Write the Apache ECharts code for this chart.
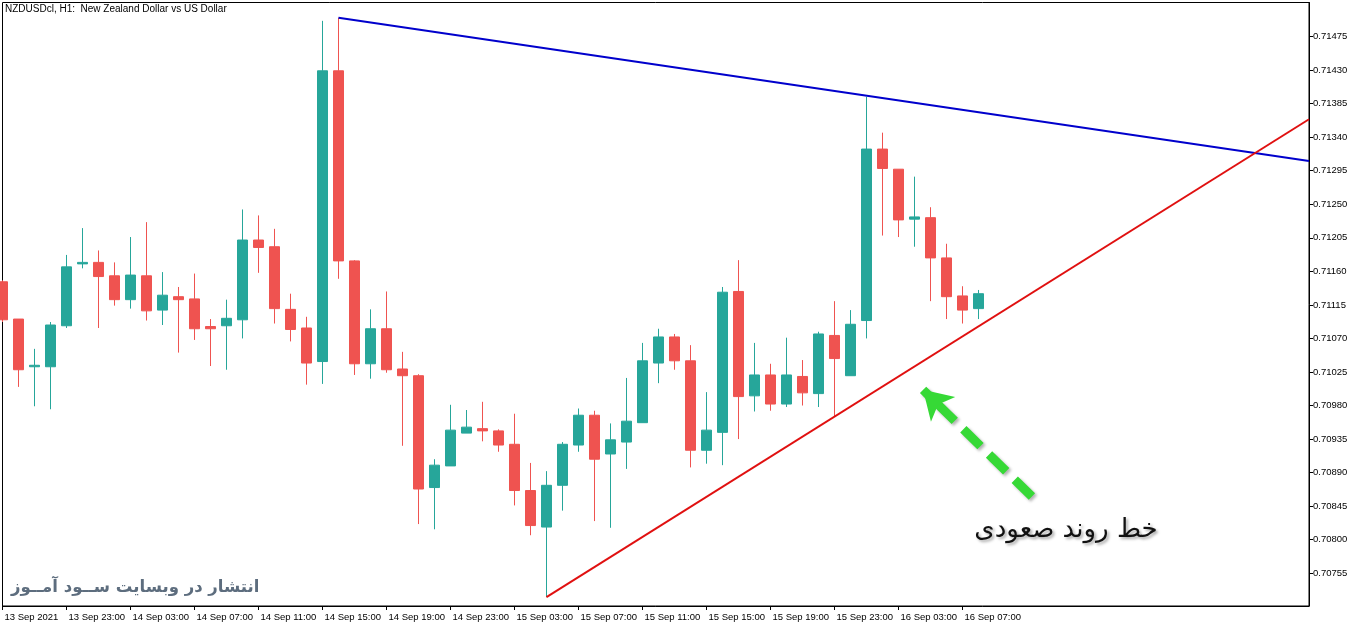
<!DOCTYPE html>
<html>
<head>
<meta charset="utf-8">
<script src="https://cdn.jsdelivr.net/npm/echarts@6.0.0/dist/echarts.min.js"></script>
<style>
  html, body { margin: 0; padding: 0; background: #fff; }
  #chart { width: 1362px; height: 628px; }
</style>
</head>
<body>
<div id="chart"></div>
<script>
// NZDUSD H1, one candle per hour starting 13 Sep 2021 19:00
const opens = [0.71146, 0.71096, 0.71032, 0.71032, 0.71087, 0.71170, 0.71172, 0.71154, 0.71122, 0.71154,
    0.71108, 0.71126, 0.71123, 0.71086, 0.71087, 0.71095, 0.71202, 0.71193, 0.71109, 0.71084,
    0.71039, 0.71429, 0.71174, 0.71036, 0.71083, 0.71029, 0.71020, 0.70870, 0.70899, 0.70943,
    0.70949, 0.70946, 0.70928, 0.70866, 0.70817, 0.70873, 0.70927, 0.70967, 0.70915, 0.70931,
    0.70957, 0.71037, 0.71072, 0.71040, 0.70920, 0.70944, 0.71133, 0.70993, 0.71021, 0.70982,
    0.71019, 0.70996, 0.71074, 0.71020, 0.71094, 0.71324, 0.71297, 0.71230, 0.71232, 0.71178,
    0.71127, 0.71110];
const closes = [0.71095, 0.71028, 0.71034, 0.71088, 0.71166, 0.71172, 0.71153, 0.71122, 0.71155, 0.71107,
    0.71128, 0.71122, 0.71083, 0.71083, 0.71097, 0.71202, 0.71192, 0.71110, 0.71082, 0.71037,
    0.71429, 0.71174, 0.71036, 0.71083, 0.71028, 0.71020, 0.70868, 0.70900, 0.70947, 0.70951,
    0.70946, 0.70927, 0.70866, 0.70819, 0.70873, 0.70928, 0.70967, 0.70908, 0.70934, 0.70959,
    0.71040, 0.71072, 0.71040, 0.70920, 0.70947, 0.71132, 0.70992, 0.71021, 0.70982, 0.71021,
    0.70997, 0.71076, 0.71043, 0.71089, 0.71324, 0.71298, 0.71229, 0.71233, 0.71178, 0.71126,
    0.71108, 0.71130];
const lows = [0.71092, 0.71005, 0.70979, 0.70975, 0.71084, 0.71164, 0.71084, 0.71114, 0.71110, 0.71094,
    0.71088, 0.71051, 0.71068, 0.71033, 0.71028, 0.71070, 0.71158, 0.71090, 0.71066, 0.71008,
    0.71009, 0.71150, 0.71021, 0.71016, 0.71024, 0.70926, 0.70821, 0.70814, 0.70899, 0.70943,
    0.70932, 0.70918, 0.70846, 0.70806, 0.70723, 0.70839, 0.70918, 0.70825, 0.70816, 0.70895,
    0.70957, 0.71010, 0.71028, 0.70897, 0.70902, 0.70900, 0.70935, 0.70972, 0.70973, 0.70978,
    0.70980, 0.70978, 0.70965, 0.71020, 0.71070, 0.71208, 0.71206, 0.71193, 0.71120, 0.71096,
    0.71090, 0.71096];
const highs = [0.71148, 0.71096, 0.71056, 0.71092, 0.71182, 0.71218, 0.71188, 0.71172, 0.71206, 0.71226,
    0.71159, 0.71139, 0.71157, 0.71096, 0.71122, 0.71243, 0.71235, 0.71217, 0.71130, 0.71099,
    0.71496, 0.71500, 0.71175, 0.71109, 0.71133, 0.71052, 0.71022, 0.70908, 0.70981, 0.70974,
    0.70985, 0.70948, 0.70969, 0.70903, 0.70892, 0.70931, 0.70976, 0.70973, 0.70956, 0.71017,
    0.71064, 0.71083, 0.71076, 0.71061, 0.70998, 0.71139, 0.71175, 0.71064, 0.71036, 0.71071,
    0.71041, 0.71079, 0.71120, 0.71108, 0.71394, 0.71346, 0.71297, 0.71287, 0.71246, 0.71197,
    0.71140, 0.71135];

// time axis labels, one every 4 bars
const xTickIndex = [0, 4, 8, 12, 16, 20, 24, 28, 32, 36, 40, 44, 48, 52, 56, 60];
const xTickLabels = ['13 Sep 2021', '13 Sep 23:00', '14 Sep 03:00', '14 Sep 07:00', '14 Sep 11:00',
    '14 Sep 15:00', '14 Sep 19:00', '14 Sep 23:00', '15 Sep 03:00', '15 Sep 07:00', '15 Sep 11:00',
    '15 Sep 15:00', '15 Sep 19:00', '15 Sep 23:00', '16 Sep 03:00', '16 Sep 07:00'];
const yTicks = [0.70755, 0.70800, 0.70845, 0.70890, 0.70935, 0.70980, 0.71025, 0.71070, 0.71115,
    0.71160, 0.71205, 0.71250, 0.71295, 0.71340, 0.71385, 0.71430, 0.71475];

// drawn lines: [bar index, price]
const downTrend = [[21, 0.71500], [81.66, 0.71308]];
const upTrend = [[34, 0.70723], [81.66, 0.71364]];
const arrowFromTo = [[64.34, 0.70858], [57.54, 0.71001]];

const candles = opens.map((o, i) => [i, o, closes[i], lows[i], highs[i]]);

const chart = echarts.init(document.getElementById('chart'));
const axisFont = 'Liberation Sans, Arial, sans-serif';

chart.setOption({
    animation: false,
    backgroundColor: '#fff',
    title: {
        text: 'NZDUSDcl, H1:  New Zealand Dollar vs US Dollar',
        left: 5,
        top: 4,
        padding: 0,
        textStyle: { fontSize: 10, fontWeight: 'normal', color: '#000', fontFamily: axisFont }
    },
    grid: {
        left: 2.5,
        top: 2.5,
        right: 53,
        bottom: 22,
        outerBoundsMode: 'none',
        show: true,
        borderColor: '#000',
        borderWidth: 1
    },
    xAxis: {
        type: 'value',
        min: 0,
        max: 81.66,
        splitLine: { show: false },
        axisLine: { show: true, onZero: false, lineStyle: { color: '#000', width: 1 } },
        axisTick: { show: true, length: 4, customValues: xTickIndex, lineStyle: { color: '#000' } },
        axisLabel: {
            customValues: xTickIndex,
            formatter: v => xTickLabels[xTickIndex.indexOf(Math.round(v))] || '',
            align: 'left',
            margin: 6,
            padding: [0, 0, 0, 2],
            fontSize: 9.5,
            color: '#000',
            fontFamily: axisFont
        }
    },
    yAxis: {
        type: 'value',
        position: 'right',
        min: 0.707111,
        max: 0.715206,
        scale: true,
        splitLine: { show: false },
        axisLine: { show: true, onZero: false, lineStyle: { color: '#000', width: 1 } },
        axisTick: { show: true, length: 4, customValues: yTicks, lineStyle: { color: '#000' } },
        axisLabel: {
            customValues: yTicks,
            formatter: v => v.toFixed(5),
            margin: 4,
            fontSize: 9.5,
            color: '#000',
            fontFamily: axisFont
        }
    },
    series: [{
        type: 'candlestick',
        data: candles,
        encode: { x: 0, y: [1, 2, 3, 4] },
        barWidth: 11,
        clip: true,
        itemStyle: {
            color: '#26a69a',
            color0: '#ef5350',
            borderColor: '#26a69a',
            borderColor0: '#ef5350',
            borderWidth: 1
        }
    }, {
        type: 'line',
        data: downTrend,
        showSymbol: false,
        silent: true,
        lineStyle: { color: '#0000cc', width: 2 }
    }, {
        type: 'line',
        data: upTrend,
        showSymbol: false,
        silent: true,
        lineStyle: { color: '#e01010', width: 2 }
    }, {
        type: 'line',
        data: [],
        silent: true,
        markLine: {
            silent: true,
            symbol: ['none', 'arrow'],
            symbolSize: [26, 28],
            label: { show: false },
            lineStyle: {
                type: [24, 12],
                width: 9,
                color: '#36d936',
                cap: 'butt',
                shadowColor: 'rgba(0,0,0,0.3)',
                shadowBlur: 3,
                shadowOffsetX: 2,
                shadowOffsetY: 2
            },
            data: [[{ coord: arrowFromTo[0] }, { coord: arrowFromTo[1] }]]
        }
    }],
    graphic: [{
        type: 'text',
        left: 11,
        top: 579,
        style: {
            text: 'انتشار در وبسایت ســود آمــوز',
            fontSize: 16.5,
            fontWeight: 'bold',
            fill: '#5d6d7e',
            fontFamily: 'DejaVu Sans, sans-serif'
        }
    }, {
        type: 'text',
        x: 1066,
        y: 530,
        style: {
            text: 'خط روند صعودی',
            fontSize: 26,
            fill: '#111',
            align: 'center',
            verticalAlign: 'middle',
            fontFamily: 'DejaVu Sans, sans-serif',
            textShadowColor: 'rgba(0,0,0,0.35)',
            textShadowBlur: 3,
            textShadowOffsetX: 2,
            textShadowOffsetY: 2
        }
    }]
});
</script>
</body>
</html>
